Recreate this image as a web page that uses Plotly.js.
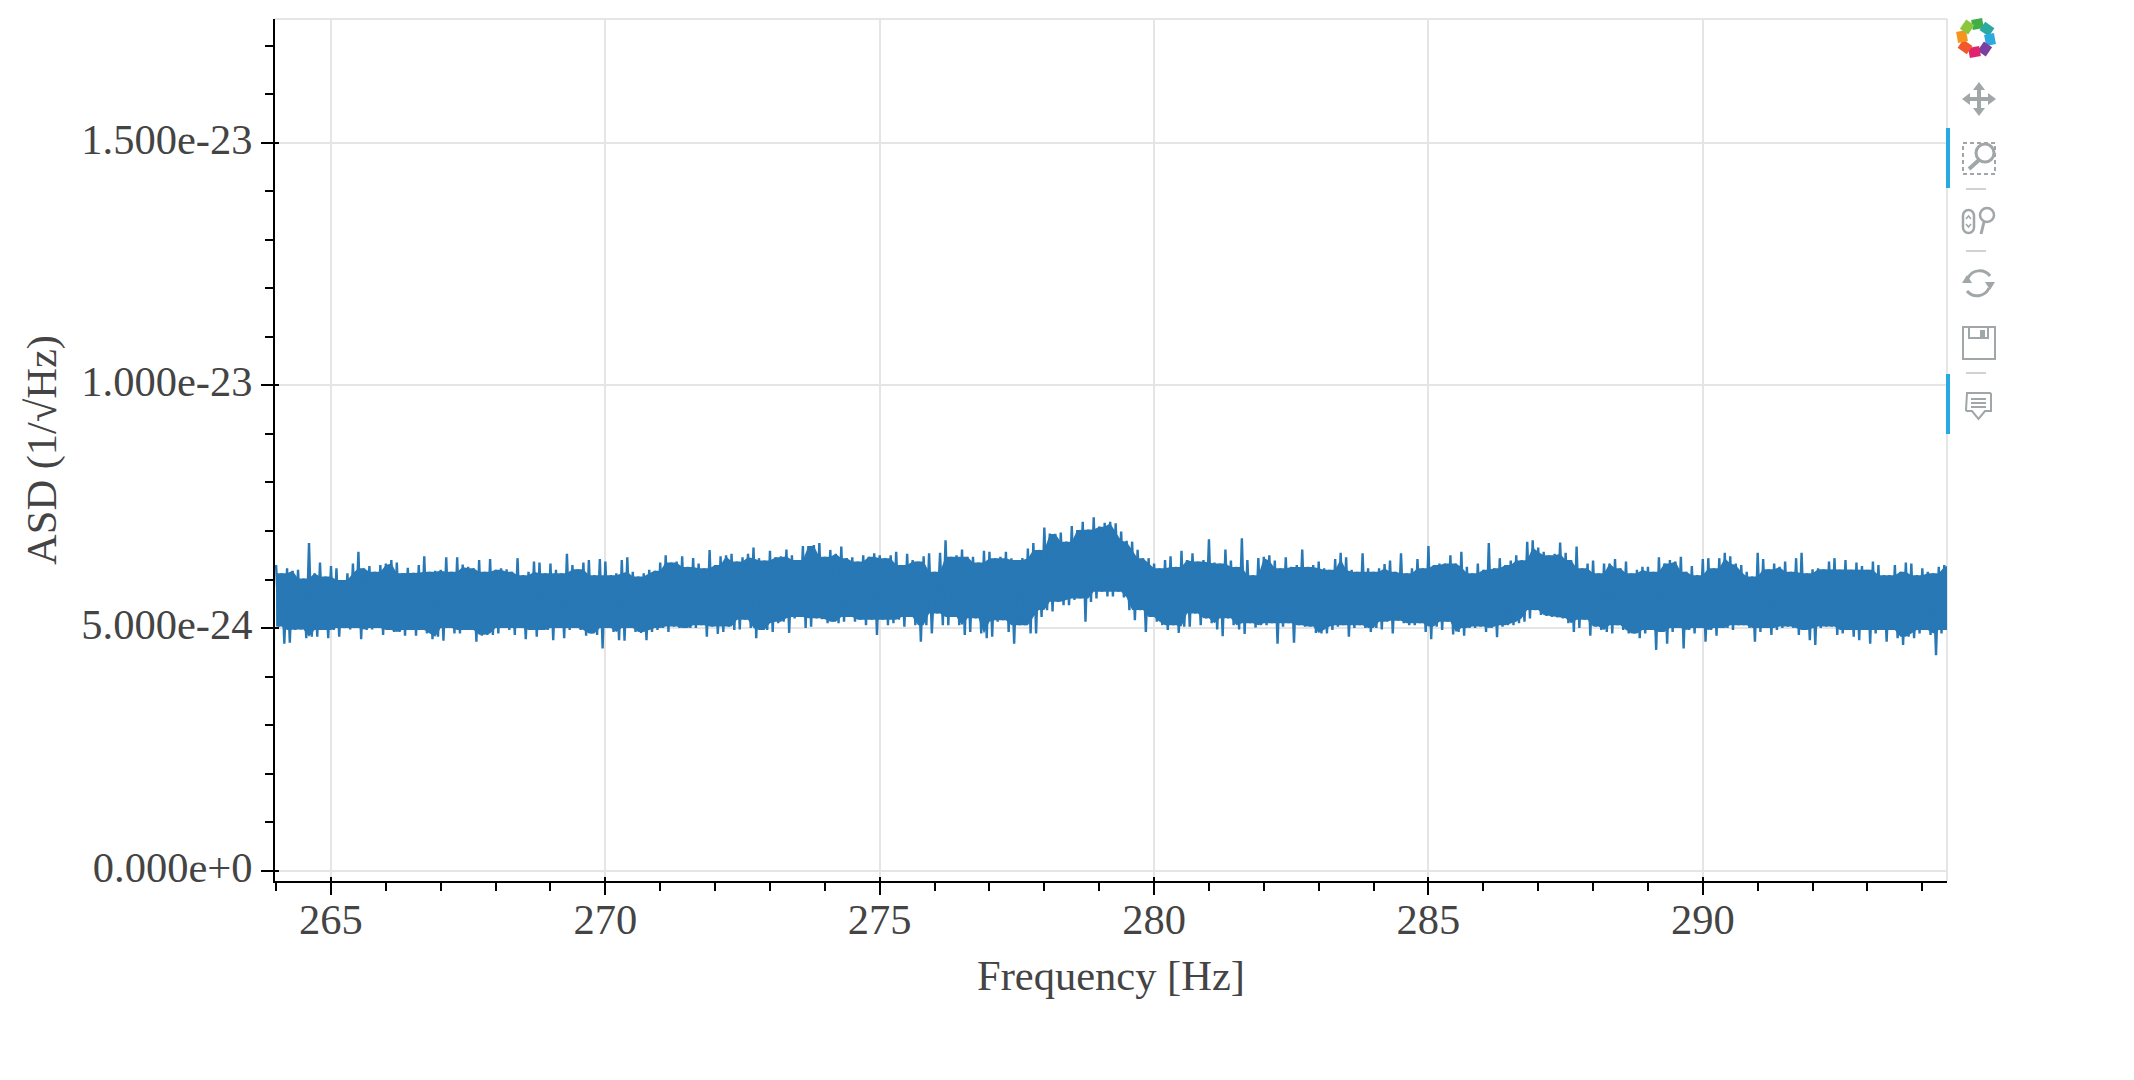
<!DOCTYPE html>
<html><head><meta charset="utf-8">
<script src="https://cdn.plot.ly/plotly-3.0.1.min.js"></script>
<style>html,body{margin:0;padding:0;background:#fff;overflow:hidden}#chart{width:2134px;height:1080px}#tools{position:absolute;left:0;top:0}</style>
</head><body>
<div id="chart"></div>
<svg id="tools" width="2134" height="1080" style="pointer-events:none">
  <g fill="none" stroke-width="10" transform="translate(1976,38)">
    <path d="M-4,-13 L7,-15" stroke="#3fae49" transform="rotate(0)"/>
    <path d="M-4,-13 L7,-15" stroke="#2aa9a0" transform="rotate(45)"/>
    <path d="M-4,-13 L7,-15" stroke="#2ea9e0" transform="rotate(90)"/>
    <path d="M-4,-13 L7,-15" stroke="#7b3fa0" transform="rotate(135)"/>
    <path d="M-4,-13 L7,-15" stroke="#e0246f" transform="rotate(180)"/>
    <path d="M-4,-13 L7,-15" stroke="#f0592b" transform="rotate(225)"/>
    <path d="M-4,-13 L7,-15" stroke="#f7941e" transform="rotate(270)"/>
    <path d="M-4,-13 L7,-15" stroke="#8cc63f" transform="rotate(315)"/>
  </g>
  <g fill="#a1a6a9" transform="translate(1979,99)">
    <path d="M0,-17 L6,-9 L2,-9 L2,-2 L9,-2 L9,-6 L17,0 L9,6 L9,2 L2,2 L2,9 L6,9 L0,17 L-6,9 L-2,9 L-2,2 L-9,2 L-9,6 L-17,0 L-9,-6 L-9,-2 L-2,-2 L-2,-9 L-6,-9 Z"/>
  </g>
  <rect x="1946" y="128" width="4" height="60" fill="#26aae1"/>
  <rect x="1946" y="374" width="4" height="60" fill="#26aae1"/>
  <g fill="none" stroke="#a1a6a9" stroke-width="2">
    <rect x="1963" y="143" width="32" height="31" stroke-dasharray="4 3"/>
    <circle cx="1985" cy="153" r="9" stroke-width="3" fill="#fff"/>
    <path d="M1979,160 L1969,169" stroke-width="4"/>
    <rect x="1963" y="210" width="11" height="23" rx="5.5" stroke-width="2.5"/>
    <path d="M1966,219 L1968.5,216 L1971,219 M1966,224 L1968.5,227 L1971,224" stroke-width="1.5"/>
    <circle cx="1987" cy="215" r="7" stroke-width="2.5"/>
    <path d="M1984,222 L1981,234" stroke-width="3"/>
    <path d="M1990,276 A13,13 0 0 0 1968,278 M1967,291 A13,13 0 0 0 1989,288" stroke-width="3"/>
    <path d="M1962,283 L1972,283 L1967,275 Z M1995,282 L1985,282 L1990,290 Z" fill="#a1a6a9" stroke="none"/>
    <rect x="1963" y="327" width="32" height="32"/>
    <path d="M1969,327 L1969,338 L1988,338 L1988,327"/>
    <rect x="1981" y="331" width="3" height="5" fill="#a1a6a9"/>
    <path d="M1967,393 L1990,393 L1991,394 L1991,411 L1985,411 L1978.5,419 L1972,411 L1967,411 L1966,410 Z"/>
    <path d="M1971,399 L1986,399 M1971,403 L1986,403 M1971,407 L1986,407"/>
    <path d="M1966,189 L1986,189 M1966,251 L1986,251 M1966,373 L1986,373" stroke="#cfd2d4"/>
  </g>
</svg>
<script>
// Frequency bins [Hz]
const freqBins = [264.0,264.1,264.2,264.3,264.4,264.5,264.6,264.7,264.8,264.9,265.0,265.1,265.2,265.3,265.4,265.5,265.6,265.7,265.8,265.9,266.0,266.1,266.2,266.3,266.4,266.5,266.6,266.7,266.8,266.9,267.0,267.1,267.2,267.3,267.4,267.5,267.6,267.7,
267.8,267.9,268.0,268.1,268.2,268.3,268.4,268.5,268.6,268.7,268.8,268.9,269.0,269.1,269.2,269.3,269.4,269.5,269.6,269.7,269.8,269.9,270.0,270.1,270.2,270.3,270.4,270.5,270.6,270.7,270.8,270.9,271.0,271.1,271.2,271.3,271.4,271.5,
271.6,271.7,271.8,271.9,272.0,272.1,272.2,272.3,272.4,272.5,272.6,272.7,272.8,272.9,273.0,273.1,273.2,273.3,273.4,273.5,273.6,273.7,273.8,273.9,274.0,274.1,274.2,274.3,274.4,274.5,274.6,274.7,274.8,274.9,275.0,275.1,275.2,275.3,
275.4,275.5,275.6,275.7,275.8,275.9,276.0,276.1,276.2,276.3,276.4,276.5,276.6,276.7,276.8,276.9,277.0,277.1,277.2,277.3,277.4,277.5,277.6,277.7,277.8,277.9,278.0,278.1,278.2,278.3,278.4,278.5,278.6,278.7,278.8,278.9,279.0,279.1,279.2,
279.3,279.4,279.5,279.6,279.7,279.8,279.9,280.0,280.1,280.2,280.3,280.4,280.5,280.6,280.7,280.8,280.9,281.0,281.1,281.2,281.3,281.4,281.5,281.6,281.7,281.8,281.9,282.0,282.1,282.2,282.3,282.4,282.5,282.6,282.7,282.8,282.9,283.0,
283.1,283.2,283.3,283.4,283.5,283.6,283.7,283.8,283.9,284.0,284.1,284.2,284.3,284.4,284.5,284.6,284.7,284.8,284.9,285.0,285.1,285.2,285.3,285.4,285.5,285.6,285.7,285.8,285.9,286.0,286.1,286.2,286.3,286.4,286.5,286.6,286.7,286.8,
286.9,287.0,287.1,287.2,287.3,287.4,287.5,287.6,287.7,287.8,287.9,288.0,288.1,288.2,288.3,288.4,288.5,288.6,288.7,288.8,288.9,289.0,289.1,289.2,289.3,289.4,289.5,289.6,289.7,289.8,289.9,290.0,290.1,290.2,290.3,290.4,290.5,290.6,
290.7,290.8,290.9,291.0,291.1,291.2,291.3,291.4,291.5,291.6,291.7,291.8,291.9,292.0,292.1,292.2,292.3,292.4,292.5,292.6,292.7,292.8,292.9,293.0,293.1,293.2,293.3,293.4,293.5,293.6,293.7,293.8,293.9,294.0,294.1,294.2,294.3,294.4,294.5];

// Top spikes of the trace, in units of 1e-24 /sqrt(Hz), read along the band
const peaksA = [6.30,6.13,6.23,6.18,6.20,6.02,6.75,6.13,6.35,6.06,6.28,6.23,5.99,6.13,6.33,6.57,6.23,6.28,6.16,6.30,6.33,6.40,6.35,6.13,6.24,6.14,6.30,6.48,6.16,6.18,6.20,6.46,6.16,6.46,6.31,6.26,6.23,6.40];
const peaksB = [6.16,6.42,6.20,6.23,6.21,6.16,6.44,6.09,6.16,6.37,6.35,6.13,6.33,6.20,6.13,6.53,6.30,6.21,6.35,6.40,6.09,6.42,6.37,6.09,6.13,6.40,6.46,6.16,6.06,6.13,6.20,6.18,6.35,6.50,6.35,6.37,6.48,6.26];
const peaksC = [6.44,6.33,6.23,6.61,6.30,6.48,6.50,6.53,6.37,6.46,6.53,6.66,6.44,6.39,6.59,6.46,6.48,6.62,6.50,6.40,6.69,6.69,6.71,6.75,6.47,6.61,6.53,6.68,6.44,6.46,6.37,6.50,6.47,6.54,6.50,6.44,6.50,6.57];
const peaksD = [6.30,6.53,6.40,6.37,6.48,6.54,6.16,6.55,6.81,6.47,6.50,6.62,6.47,6.47,6.35,6.59,6.57,6.44,6.47,6.57,6.44,6.40,6.44,6.64,6.75,6.61,7.07,6.95,6.94,6.97,6.78,7.10,7.02,7.19,7.03,7.28,7.09,7.17,7.19];
const peaksE = [7.16,6.99,6.80,6.78,6.61,6.44,6.44,6.33,6.23,6.40,6.48,6.26,6.59,6.40,6.54,6.37,6.40,6.83,6.35,6.33,6.62,6.39,6.26,6.85,6.40,6.09,6.44,6.47,6.50,6.39,6.23,6.46,6.26,6.30,6.62,6.26,6.30,6.37];
const peaksF = [6.23,6.20,6.42,6.55,6.46,6.20,6.16,6.54,6.23,6.16,6.23,6.32,6.39,6.16,6.54,6.13,6.23,6.42,6.23,6.69,6.30,6.33,6.33,6.50,6.33,6.57,6.26,6.13,6.33,6.20,6.75,6.23,6.44,6.30,6.39,6.50,6.40,6.78];
const peaksG = [6.81,6.66,6.57,6.50,6.53,6.76,6.55,6.40,6.68,6.23,6.33,6.39,6.13,6.33,6.33,6.42,6.23,6.37,6.13,6.20,6.26,6.26,6.16,6.46,6.33,6.40,6.37,6.47,6.16,6.28,6.09,6.42,6.44,6.23,6.44,6.55,6.48,6.33];
const peaksH = [6.30,6.16,6.06,6.55,6.42,6.21,6.33,6.26,6.37,6.16,6.44,6.55,6.13,6.21,6.23,6.21,6.37,6.44,6.20,6.40,6.20,6.35,6.28,6.20,6.37,6.30,6.09,6.09,6.30,6.16,6.35,6.33,6.09,6.23,6.16,6.13,6.26,6.30,6.30];

// Bottom dips of the trace, same units
const dipsA = [5.03,4.68,4.70,4.96,4.97,4.79,4.82,4.82,4.96,4.79,4.96,4.82,5.00,4.97,5.00,4.77,4.96,4.97,5.00,4.86,4.96,4.92,4.92,4.84,4.96,4.84,4.96,4.89,4.77,4.82,4.74,5.00,4.89,4.89,4.96,4.96,4.72,4.84];
const dipsB = [4.86,4.86,4.89,5.00,4.96,4.86,5.00,4.77,4.96,4.82,4.96,4.96,4.75,5.00,4.79,4.96,5.00,4.96,4.84,4.89,4.86,4.58,5.00,4.92,4.75,4.74,5.00,4.92,4.90,4.75,4.92,4.96,5.00,4.92,5.03,5.00,5.00,5.00];
const dipsC = [5.00,5.06,4.82,5.03,4.88,4.92,5.03,4.96,4.97,5.17,5.00,4.79,4.96,4.96,4.92,5.10,5.13,4.90,5.20,5.23,5.00,5.03,5.20,5.18,5.10,5.13,5.10,5.13,5.23,5.13,5.17,5.06,5.17,4.86,5.17,5.06,5.10,5.17];
const dipsD = [5.03,5.23,5.06,4.72,5.06,4.89,5.30,5.06,5.06,5.23,5.06,4.86,4.92,5.20,4.89,4.79,4.82,5.13,5.16,4.92,4.68,5.06,5.06,4.89,4.89,5.23,5.37,5.34,5.54,5.47,5.47,5.58,5.61,5.13,5.54,5.61,5.75,5.65,5.65];
const dipsE = [5.75,5.63,5.37,5.16,5.37,4.92,5.23,5.13,5.06,4.96,5.06,4.90,5.03,5.03,5.30,5.06,5.20,5.10,4.97,4.83,5.20,5.06,4.97,4.88,5.10,5.01,5.06,5.06,5.10,4.68,5.03,5.10,4.70,5.06,5.03,5.03,4.90,4.89];
const dipsF = [4.89,4.96,5.03,5.06,4.82,5.00,5.06,5.00,4.92,5.00,4.97,5.13,4.89,5.15,5.10,5.06,5.06,5.10,4.92,4.77,5.03,4.96,5.13,4.87,4.92,4.84,5.00,5.00,5.03,4.92,5.00,4.81,5.03,5.06,5.06,5.10,5.13,5.20];
const dipsG = [5.37,5.27,5.25,5.23,5.22,5.20,5.10,4.92,5.00,5.17,4.84,5.03,4.96,4.92,4.89,5.06,4.96,4.89,4.89,4.79,4.89,4.96,4.55,4.92,4.68,4.92,5.00,4.58,4.96,4.89,5.00,4.72,4.96,4.84,5.00,5.00,4.96,5.06];
const dipsH = [5.06,5.00,4.72,4.92,5.00,4.86,4.96,5.00,5.03,5.00,4.86,4.96,4.75,4.65,5.00,5.03,5.03,4.86,4.89,4.96,4.82,4.75,4.96,4.68,4.89,4.96,4.72,4.96,4.79,4.65,4.82,4.79,4.89,4.96,4.86,4.44,4.89,4.96,4.96];

const yTickVals  = [0, 5e-24, 1e-23, 1.5e-23];
const yTickText  = ['0.000e+0','5.000e-24','1.000e-23','1.500e-23'];
const yMinorVals = [1e-24,2e-24,3e-24,4e-24,6e-24,7e-24,8e-24,9e-24,1.1e-23,1.2e-23,1.3e-23,1.4e-23,1.6e-23,1.7e-23];
const xTitle = 'Frequency [Hz]';
const yTitle = 'ASD (1/√Hz)';

const BLUE = '#2878b5';
const peaks = [].concat(peaksA,peaksB,peaksC,peaksD,peaksE,peaksF,peaksG,peaksH);
const dips  = [].concat(dipsA,dipsB,dipsC,dipsD,dipsE,dipsF,dipsG,dipsH);
const scale = v => v * 1e-24;

// The dense trace itself: one zigzag through the peaks and dips
const traceX = [], traceY = [];
freqBins.forEach((f, i) => {
  traceX.push(f);        traceY.push(scale(peaks[i]));
  traceX.push(f + 0.05); traceY.push(scale(dips[i]));
});

// The solid body between the spikes: inner limit of each three neighbouring readings
const neighbours = (arr, i) => [arr[Math.max(i-1,0)], arr[i], arr[Math.min(i+1,arr.length-1)]];
const bodyTop = peaks.map((_, i) => scale(Math.min(...neighbours(peaks, i))));
const bodyLow = dips.map((_, i) => scale(Math.max(...neighbours(dips, i))));

const XR = [263.98, 294.45], YR = [-2.12e-25, 1.755e-23];
const FONT = 'Liberation Serif, Times New Roman, serif';
const FS = 42.5;

const data = [
  {x: freqBins, y: bodyTop, mode:'lines', line:{width:0,color:BLUE}, hoverinfo:'skip', showlegend:false},
  {x: freqBins, y: bodyLow, mode:'lines', line:{width:0,color:BLUE}, fill:'tonexty', fillcolor:BLUE, hoverinfo:'skip', showlegend:false},
  {x: traceX, y: traceY, mode:'lines', line:{width:2.4,color:BLUE}, showlegend:false},
  {x: [], y: [], xaxis:'x2', yaxis:'y2', mode:'lines', showlegend:false}
];

const layout = {
  width:2134, height:1080, paper_bgcolor:'#fff', plot_bgcolor:'#fff',
  margin:{l:275.4, r:187, t:19, b:199, pad:0},
  font:{family:FONT, color:'#444444', size:FS},
  xaxis:{range:XR, showline:true, linecolor:'#000', linewidth:2, zeroline:false,
    showgrid:true, gridcolor:'#e5e5e5', gridwidth:2,
    tick0:265, dtick:5, ticks:'outside', ticklen:12, tickwidth:2, tickcolor:'#000',
    ticklabelstandoff:-12,
    tickfont:{family:FONT,size:FS,color:'#444444'},
    minor:{dtick:1, tick0:265, ticks:'outside', ticklen:8, tickwidth:2, tickcolor:'#000', showgrid:false},
    title:{text:xTitle, font:{family:FONT,size:FS,color:'#444444'}, standoff:18}},
  yaxis:{range:YR, showline:true, linecolor:'#000', linewidth:2, zeroline:false,
    showgrid:true, gridcolor:'#e5e5e5', gridwidth:2,
    tickmode:'array', tickvals:yTickVals, ticktext:yTickText,
    ticks:'outside', ticklen:12, tickwidth:2, tickcolor:'#000',
    ticklabelshift:-4,
    tickfont:{family:FONT,size:FS,color:'#444444'},
    minor:{tickmode:'array', tickvals:yMinorVals, ticks:'outside', ticklen:8, tickwidth:2, tickcolor:'#000', showgrid:false},
    title:{text:yTitle, font:{family:FONT,size:FS,color:'#444444'}, standoff:11}},
  xaxis2:{range:XR, overlaying:'x', anchor:'y', side:'bottom', showgrid:false, zeroline:false, showline:false, showticklabels:false,
    tick0:265, dtick:5, ticks:'inside', ticklen:4, tickwidth:2, tickcolor:'#000'},
  yaxis2:{range:YR, overlaying:'y', anchor:'x', side:'left', showgrid:false, zeroline:false, showline:false, showticklabels:false,
    tickmode:'array', tickvals:yTickVals, ticks:'inside', ticklen:4, tickwidth:2, tickcolor:'#000'},
  shapes:[
    {type:'line', xref:'paper', yref:'paper', x0:0, x1:1, y0:1, y1:1, line:{color:'#e5e5e5',width:2}, layer:'below'},
    {type:'line', xref:'paper', yref:'paper', x0:1, x1:1, y0:0, y1:1, line:{color:'#e5e5e5',width:2}, layer:'below'}
  ]
};
Plotly.newPlot('chart', data, layout, {displayModeBar:false, staticPlot:true});
</script>
</body></html>
